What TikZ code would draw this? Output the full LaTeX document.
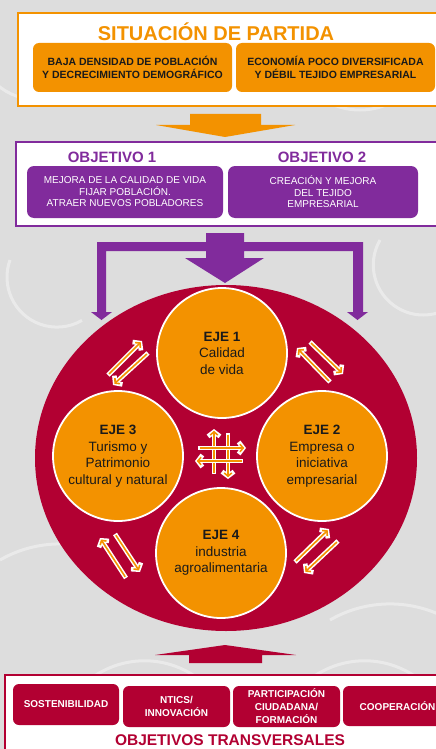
\documentclass[tikz,border=0pt]{standalone}
\usepackage{fontspec}
\setmainfont{Liberation Sans}
\usetikzlibrary{arrows.meta}
\definecolor{bgc}{HTML}{DDDDDD}
\definecolor{org}{HTML}{F39200}
\definecolor{pur}{HTML}{812B9C}
\definecolor{crim}{HTML}{B20032}
\definecolor{ink}{HTML}{1A1A1A}
\tikzset{
  obox/.style={fill=org, rounded corners=6pt, align=center, inner sep=0pt, text=ink,
    font=\bfseries\fontsize{10.5}{13}\selectfont},
  pbox/.style={fill=pur, rounded corners=7pt, align=center, inner sep=0pt, text=white,
    font=\fontsize{10}{11.5}\selectfont},
  rbox/.style={fill=crim, rounded corners=6pt, align=center, inner sep=0pt, text=white,
    font=\bfseries\fontsize{10}{13}\selectfont},
  eje/.style={circle, fill=org, draw=white, line width=1.8pt, minimum size=130pt, inner sep=0pt,
    align=center, text=ink, font=\fontsize{13.5}{16.5}\selectfont},
  warr/.style={white, line width=4.6pt, -{Straight Barb[length=4.5pt, width=12pt]}},
  oarr/.style={org, line width=1.6pt, shorten <=1.5pt, shorten >=1.8pt, -{Straight Barb[length=3.2pt, width=7.5pt]}},
  deco/.style={white, line width=3pt, opacity=0.4}
}
\newcommand\dblarr[2]{\draw[warr] (#1) -- (#2); \draw[oarr] (#1) -- (#2);}
\begin{document}
\begin{tikzpicture}[x=1pt,y=-1pt]
\clip (0,0) rectangle (436,749);
\fill[bgc] (0,0) rectangle (436,749);
% faint background decoration
\draw[deco] (-20,60) arc[start angle=200, end angle=320, radius=60pt];
\draw[deco] (120,20) arc[start angle=180, end angle=300, radius=70pt];
\draw[deco] (290,40) arc[start angle=180, end angle=320, radius=70pt];
\draw[deco] (380,240) arc[start angle=150, end angle=300, radius=50pt];
\draw[deco] (10,260) arc[start angle=160, end angle=300, radius=50pt];
\draw[deco] (0,560) arc[start angle=120, end angle=60, radius=120pt];
\draw[deco] (330,620) arc[start angle=120, end angle=60, radius=120pt];
\draw[deco] (60,720) arc[start angle=160, end angle=40, radius=90pt];
\draw[deco] (280,720) arc[start angle=160, end angle=40, radius=90pt];

% ---- Situacion de partida
\draw[org, line width=2pt, fill=white] (18,13) rectangle (450,106);
\node[text=org, font=\bfseries\fontsize{20}{24}\selectfont] (title) at (216,32) {SITUACIÓN DE PARTIDA};
\node[obox, minimum width=199pt, minimum height=49pt] (s1) at (132.5,67.5)
  {BAJA DENSIDAD DE POBLACIÓN\\Y DECRECIMIENTO DEMOGRÁFICO};
\node[obox, minimum width=199pt, minimum height=49pt] (s2) at (335.5,67.5)
  {ECONOMÍA POCO DIVERSIFICADA\\Y DÉBIL TEJIDO EMPRESARIAL};

% orange arrow
\fill[org] (190,114) -- (261,114) -- (261,125) -- (295,125) -- (225,137) -- (156,125) -- (190,125) -- cycle;

% ---- Objetivos
\draw[pur, line width=1.5pt, fill=white] (16,142) rectangle (450,226);
\node[text=pur, font=\bfseries\fontsize{15}{18}\selectfont] (o1t) at (112,157) {OBJETIVO 1};
\node[text=pur, font=\bfseries\fontsize{15}{18}\selectfont] (o2t) at (322,157) {OBJETIVO 2};
\node[pbox, minimum width=196pt, minimum height=52pt] (o1) at (125,192)
  {MEJORA DE LA CALIDAD DE VIDA\\FIJAR POBLACIÓN.\\ATRAER NUEVOS POBLADORES};
\node[pbox, minimum width=190pt, minimum height=52pt] (o2) at (323,192)
  {CREACIÓN Y MEJORA\\DEL TEJIDO\\EMPRESARIAL};

% purple arrow
\fill[pur] (206,233) -- (244,233) -- (244,242) -- (363,242) -- (363,312) -- (368,312) -- (357.5,320)
  -- (347,312) -- (353,312) -- (353,251) -- (244,251) -- (244,258) -- (264,258) -- (225,283)
  -- (185,258) -- (206,258) -- (206,251) -- (106,251) -- (106,312) -- (112,312) -- (101.5,320)
  -- (91,312) -- (97,312) -- (97,242) -- (206,242) -- cycle;

% ---- Ellipse and ejes
\fill[crim] (226,458) ellipse [x radius=191pt, y radius=173pt];
\node[eje] (e1) at (222,353) {\textbf{EJE 1}\\Calidad\\de vida};
\node[eje] (e3) at (118,456) {\textbf{EJE 3}\\Turismo y\\Patrimonio\\cultural y natural};
\node[eje] (e2) at (322,456) {\textbf{EJE 2}\\Empresa o\\iniciativa\\empresarial};
\node[eje] (e4) at (221,553) {\textbf{EJE 4}\\industria\\agroalimentaria};

% double arrows
\coordinate (a1s) at (108,375); \coordinate (a1e) at (142,341);
\coordinate (a2s) at (148,353); \coordinate (a2e) at (113,385);
\coordinate (b1s) at (330,382); \coordinate (b1e) at (297,348);
\coordinate (b2s) at (310,342); \coordinate (b2e) at (343,374);
\coordinate (c1s) at (126,578); \coordinate (c1e) at (100,538);
\coordinate (c2s) at (115,534); \coordinate (c2e) at (140,572);
\coordinate (d1s) at (295,562); \coordinate (d1e) at (329,529);
\coordinate (d2s) at (338,541); \coordinate (d2e) at (304,573);
\dblarr{a1s}{a1e} \dblarr{a2s}{a2e}
\dblarr{b1s}{b1e} \dblarr{b2s}{b2e}
\dblarr{c1s}{c1e} \dblarr{c2s}{c2e}
\dblarr{d1s}{d1e} \dblarr{d2s}{d2e}
% central cross
\coordinate (v1s) at (214,474); \coordinate (v1e) at (214,429);
\coordinate (v2s) at (228,433); \coordinate (v2e) at (228,479);
\coordinate (h1s) at (198,448); \coordinate (h1e) at (246,448);
\coordinate (h2s) at (243,461); \coordinate (h2e) at (195,461);
\dblarr{v1s}{v1e} \dblarr{v2s}{v2e}
\dblarr{h1s}{h1e} \dblarr{h2s}{h2e}

% red arrow
\fill[crim] (189,663) -- (189,655) -- (155,655) -- (225,645) -- (296,655) -- (262,655) -- (262,663) -- cycle;

% ---- Objetivos transversales
\draw[crim, line width=1.5pt, fill=white] (5,675) rectangle (450,770);
\node[rbox, minimum width=106pt, minimum height=41pt] (t1) at (66,704.5) {SOSTENIBILIDAD};
\node[rbox, minimum width=107pt, minimum height=41pt] (t2) at (176.5,706.5) {NTICS/\\INNOVACIÓN};
\node[rbox, minimum width=107pt, minimum height=41pt] (t3) at (286.5,706.5) {PARTICIPACIÓN\\CIUDADANA/\\FORMACIÓN};
\node[rbox, minimum width=109pt, minimum height=40pt] (t4) at (397.5,706) {COOPERACIÓN};
\node[text=crim, font=\bfseries\fontsize{15.5}{18}\selectfont, inner sep=1pt] (ttl) at (230,740) {OBJETIVOS TRANSVERSALES};
\end{tikzpicture}
\end{document}
